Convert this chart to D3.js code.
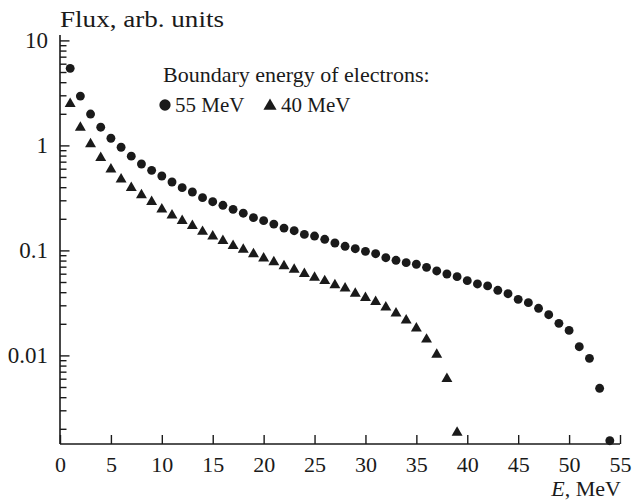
<!DOCTYPE html>
<html>
<head>
<meta charset="utf-8">
<script src="https://cdn.jsdelivr.net/npm/d3@7"></script>
<style>
  html, body { margin: 0; padding: 0; background: #fff; }
  svg { display: block; }
  text { font-family: "Liberation Serif", "DejaVu Serif", serif; fill: #1a1a1a; }
</style>
</head>
<body>
<svg id="chart" width="633" height="504"></svg>
<script>
// ---- data ----
const energies55 = [1,2,3,4,5,6,7,8,9,10,11,12,13,14,15,16,17,18,19,20,21,22,23,24,25,26,27,28,29,30,31,32,33,34,35,36,37,38,39,40,41,42,43,44,45,46,47,48,49,50,51,52,53,54];
const flux55 = [5.42, 2.95, 1.99, 1.49, 1.17, 0.96, 0.79, 0.665, 0.579, 0.511, 0.448, 0.396, 0.360, 0.318, 0.291, 0.269, 0.246, 0.226, 0.205, 0.192, 0.178, 0.163, 0.154, 0.142, 0.137, 0.1276, 0.1176, 0.1094, 0.1038, 0.098, 0.093, 0.0852, 0.0805, 0.0764, 0.0738, 0.069, 0.0637, 0.0596, 0.0562, 0.0515, 0.0479, 0.0459, 0.0417, 0.0387, 0.0342, 0.0318, 0.0281, 0.0244, 0.0202, 0.0173, 0.0121, 0.00938, 0.00486, 0.00154];
const energies40 = [1,2,3,4,5,6,7,8,9,10,11,12,13,14,15,16,17,18,19,20,21,22,23,24,25,26,27,28,29,30,31,32,33,34,35,36,37,38,39];
const flux40 = [2.55, 1.51, 1.05, 0.78, 0.605, 0.486, 0.404, 0.344, 0.297, 0.252, 0.221, 0.195, 0.175, 0.154, 0.139, 0.126, 0.113, 0.104, 0.0945, 0.086, 0.0792, 0.0726, 0.067, 0.0613, 0.0562, 0.0523, 0.0479, 0.0445, 0.0397, 0.0362, 0.0331, 0.0294, 0.0257, 0.0221, 0.0185, 0.0145, 0.0104, 0.00613, 0.00188];
const xTicks = [0, 5, 10, 15, 20, 25, 30, 35, 40, 45, 50, 55];
const yMajorTicks = [0.01, 0.1, 1, 10];
const yTickLabels = ["0.01", "0.1", "1", "10"];
const yAxisTitle = "Flux, arb. units";
const xAxisTitleItalic = "E";
const xAxisTitleRest = ", MeV";
const legendTitle = "Boundary energy of electrons:";
const legendLabels = ["55 MeV", "40 MeV"];

// ---- layout ----
const svg = d3.select("#chart");
const mLeft = 60, mRight = 620, mBottom = 444, mTop = 35;
const ink = "#1a1a1a";

const x = d3.scaleLinear().domain([0, 55]).range([mLeft, mRight]);
// log scale: decade = 105 px, value 1 at y = 145.4
const decade = 105, yOne = 145.4;
const yMin = Math.pow(10, (yOne - mBottom) / decade);
const yMax = Math.pow(10, (yOne - mTop) / decade);
const y = d3.scaleLog().domain([yMin, yMax]).range([mBottom, mTop]);

// minor ticks
const yMinorTicks = [];
[0.001, 0.01, 0.1, 1].forEach(d => {
  for (let k = 2; k <= 9; k++) {
    const v = d * k;
    if (v >= yMin && v <= yMax) yMinorTicks.push(v);
  }
});

// x axis (ticks inward / upward)
const xAxis = d3.axisBottom(x).tickValues(xTicks).tickSize(-9).tickPadding(12).tickFormat(d3.format("d"));
const gx = svg.append("g").attr("transform", `translate(0,${mBottom})`).call(xAxis);
gx.select(".domain").attr("d", `M${mLeft},0H${mRight}`).attr("stroke", ink).attr("stroke-width", 1.6);
gx.selectAll(".tick line").attr("stroke", ink).attr("stroke-width", 1.4);
gx.selectAll(".tick text").attr("font-size", 22).attr("font-family", "Liberation Serif").attr("fill", ink).attr("dy", "0.71em");

// y axis major
const yAxis = d3.axisLeft(y).tickValues(yMajorTicks).tickSize(-9.5).tickPadding(12)
  .tickFormat((d, i) => yTickLabels[i]);
const gy = svg.append("g").attr("transform", `translate(${mLeft},0)`).call(yAxis);
gy.select(".domain").attr("d", `M0,${mBottom}V${mTop}`).attr("stroke", ink).attr("stroke-width", 1.6);
gy.selectAll(".tick line").attr("stroke", ink).attr("stroke-width", 1.4);
gy.selectAll(".tick text").attr("font-size", 23).attr("font-family", "Liberation Serif").attr("fill", ink);

// y axis minor
const yAxisMinor = d3.axisLeft(y).tickValues(yMinorTicks).tickSize(-6.5).tickFormat("");
const gym = svg.append("g").attr("transform", `translate(${mLeft},0)`).call(yAxisMinor);
gym.select(".domain").remove();
gym.selectAll(".tick line").attr("stroke", ink).attr("stroke-width", 1.4);

// axis titles
svg.append("text").attr("x", mLeft).attr("y", 27).attr("font-size", 24)
  .attr("textLength", 164).attr("lengthAdjust", "spacingAndGlyphs").text(yAxisTitle);
const xt = svg.append("text").attr("x", 621).attr("y", 496).attr("text-anchor", "end").attr("font-size", 22);
xt.append("tspan").attr("font-style", "italic").text(xAxisTitleItalic);
xt.append("tspan").text(xAxisTitleRest);

// data marks
const circleSym = d3.symbol().type(d3.symbolCircle).size(62);
const triSym = d3.symbol().type(d3.symbolTriangle).size(52);

svg.append("g").selectAll("path").data(energies55.map((e, i) => [e, flux55[i]]))
  .join("path")
  .attr("d", circleSym)
  .attr("transform", d => `translate(${x(d[0])},${y(d[1])})`)
  .attr("fill", ink);

svg.append("g").selectAll("path").data(energies40.map((e, i) => [e, flux40[i]]))
  .join("path")
  .attr("d", triSym)
  .attr("transform", d => `translate(${x(d[0])},${y(d[1]) + 1})`)
  .attr("fill", ink);

// legend
svg.append("text").attr("x", 163).attr("y", 82).attr("font-size", 22).text(legendTitle);
svg.append("path").attr("d", d3.symbol().type(d3.symbolCircle).size(100)())
  .attr("transform", "translate(165,105)").attr("fill", ink);
svg.append("text").attr("x", 175).attr("y", 112).attr("font-size", 21).text(legendLabels[0]);
svg.append("path").attr("d", d3.symbol().type(d3.symbolTriangle).size(75)())
  .attr("transform", "translate(270,106)").attr("fill", ink);
svg.append("text").attr("x", 281).attr("y", 112).attr("font-size", 21).text(legendLabels[1]);
</script>
</body>
</html>
